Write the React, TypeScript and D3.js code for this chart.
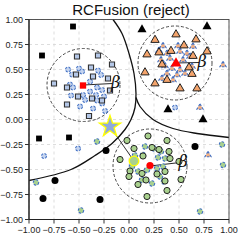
import * as d3 from 'd3';

// points, in data units
const blackSquares = [[-0.56, 0.93], [-0.87, 0.64], [-0.9, -0.19], [-0.6, -0.18]];
const blackTriangles = [[0.13, 0.9], [0.78, 0.93], [0.39, 0.1], [0.74, 0.0]];
const blackCircles = [[-0.23, -0.31], [-0.74, -0.61], [-0.86, -0.79], [-0.29, -0.8], [0.66, -0.27]];

const blueSquares = [
  [-0.52, 0.63], [-0.31, 0.64], [-0.17, 0.55], [-0.38, 0.52], [-0.53, 0.45], [-0.36, 0.43],
  [-0.21, 0.41], [-0.75, 0.36], [-0.62, 0.32], [-0.19, 0.29], [-0.51, 0.23], [-0.37, 0.21],
  [-0.27, 0.19], [-0.62, 0.15], [-0.4, 0.035],
];
const blueSmall = [
  [-0.61, 0.5], [-0.5, 0.51], [-0.47, 0.48], [-0.57, 0.45], [-0.31, 0.49], [-0.28, 0.445],
  [-0.59, 0.35], [-0.56, 0.32], [-0.39, 0.38], [-0.32, 0.32], [-0.27, 0.295], [-0.58, 0.24],
  [-0.46, 0.245], [-0.44, 0.195], [-0.39, 0.28], [-0.33, 0.245], [-0.32, 0.19], [-0.25, 0.23],
  [-0.27, 0.16], [-0.49, 0.13], [-0.36, 0.11], [-0.24, 0.085], [-0.51, -0.29], [-0.85, -0.365],
  [0.46, 0.12],
];

const orangeTriangles = [
  [0.47, 0.85], [0.26, 0.795], [0.67, 0.8], [0.55, 0.74], [0.3, 0.67], [0.42, 0.685],
  [0.18, 0.65], [0.64, 0.635], [0.78, 0.68], [0.33, 0.55], [0.6, 0.52], [0.16, 0.47],
  [0.38, 0.395], [0.26, 0.36], [0.63, 0.455], [0.51, 0.31], [0.68, 0.31],
];
const orangeSmall = [
  [0.34, 0.735], [0.49, 0.735], [0.64, 0.73], [0.3, 0.69], [0.38, 0.66], [0.51, 0.68],
  [0.58, 0.66], [0.32, 0.595], [0.41, 0.61], [0.54, 0.595], [0.61, 0.63], [0.36, 0.535],
  [0.43, 0.51], [0.51, 0.495], [0.63, 0.53], [0.38, 0.46], [0.48, 0.445], [0.56, 0.46],
  [0.44, 0.395], [0.33, 0.41], [0.94, 0.545], [0.71, 0.12], [0.79, -0.355],
];

const greenCircles = [
  [-0.02, -0.21], [0.19, -0.165], [0.38, -0.21], [0.05, -0.29], [0.23, -0.28], [0.3, -0.3],
  [0.4, -0.32], [-0.09, -0.4], [0.14, -0.365], [0.41, -0.39], [0.5, -0.42], [0.01, -0.515],
  [0.13, -0.54], [0.28, -0.545], [0.36, -0.52], [0.09, -0.65], [0.17, -0.605], [0.36, -0.615],
  [0.0, -0.57], [0.38, -0.71], [0.18, -0.77], [0.52, -0.6],
];
const greenSmall = [
  [0.16, -0.27], [0.25, -0.29], [0.32, -0.32], [0.14, -0.355], [0.29, -0.38], [0.36, -0.39],
  [0.09, -0.52], [0.03, -0.47], [0.18, -0.505], [0.28, -0.49], [0.34, -0.47], [0.13, -0.605],
  [0.23, -0.64], [0.31, -0.57], [0.35, -0.62], [0.06, -0.36],
  [-0.32, -0.22], [-0.93, -0.63], [-0.48, -0.91], [0.71, -0.92], [0.93, -0.25], [0.94, -0.455],
];

// cluster circles: centre, radius, beta label position
const clusters = [
  { c: [-0.455, 0.345], r: 0.365, beta: [-0.135, 0.37] },
  { c: [0.46, 0.565], r: 0.37, beta: [0.73, 0.58] },
  { c: [0.21, -0.465], r: 0.37, beta: [0.54, -0.42] },
];
const redSquare = [-0.46, 0.34];
const redTriangle = [0.47, 0.56];
const redCircle = [0.21, -0.46];
const star = [-0.19, -0.07];
const query = [0.05, -0.415];

// decision boundaries
const boundaryA = [
  [-0.16, 1.0], [-0.07, 0.86], [0.0, 0.66], [0.05, 0.46], [0.07, 0.26], [0.06, 0.12],
  [0.02, 0.0], [-0.04, -0.1], [-0.17, -0.24], [-0.34, -0.36], [-0.58, -0.5], [-1.0, -0.61],
];
const boundaryB = [
  [0.07, 0.22], [0.11, 0.13], [0.24, 0.0], [0.44, -0.09], [0.68, -0.14], [1.0, -0.18],
];

const ticks = [-1, -0.75, -0.5, -0.25, 0, 0.25, 0.5, 0.75, 1];

export default function App() {
  const x = d3.scaleLinear().domain([-1, 1]).range([29, 229]);
  const y = d3.scaleLinear().domain([-1, 1]).range([219.5, 19.5]);
  const line = d3.line<number[]>().x(d => x(d[0])).y(d => y(d[1])).curve(d3.curveCatmullRom);
  const sym = (type: d3.SymbolType, size: number) => d3.symbol().type(type).size(size)() || '';
  const fmt = d3.format('.2f');
  const font = '"Liberation Sans", Arial, sans-serif';

  const smallStroke = { stroke: '#4472c4', strokeWidth: 1.1, strokeDasharray: '2.5,1.5' };

  return (
    <svg width={240} height={240} style={{ position: 'absolute', left: 0, top: 0, background: '#fff' }}>
      <text x={131} y={15} textAnchor="middle" fontSize={15} fontFamily={font} fill="#111">RCFusion (reject)</text>

      {ticks.map(t => (
        <g key={'g' + t}>
          <line x1={x(t)} x2={x(t)} y1={19.5} y2={219.5} stroke="#d4d4d4" strokeWidth={0.8} strokeDasharray="3,3" />
          <line x1={29} x2={229} y1={y(t)} y2={y(t)} stroke="#d4d4d4" strokeWidth={0.8} strokeDasharray="3,3" />
          <line x1={25} x2={29} y1={y(t)} y2={y(t)} stroke="#333" strokeWidth={1} />
          <line x1={x(t)} x2={x(t)} y1={219.5} y2={223.5} stroke="#333" strokeWidth={1} />
          <text x={23} y={y(t) + 3.3} textAnchor="end" fontSize={9} fontFamily={font} fill="#222">{fmt(t)}</text>
          <text x={x(t)} y={233} textAnchor="middle" fontSize={9} fontFamily={font} fill="#222">{fmt(t)}</text>
        </g>
      ))}

      {clusters.map((cl, i) => (
        <g key={'c' + i}>
          <circle cx={x(cl.c[0])} cy={y(cl.c[1])} r={x(cl.r) - x(0)} fill="none" stroke="#333" strokeWidth={0.9} strokeDasharray="3,2" />
          <line x1={x(cl.c[0])} y1={y(cl.c[1])} x2={x(cl.beta[0]) - 3} y2={y(cl.beta[1]) + 1} stroke="#111" strokeWidth={0.9} />
        </g>
      ))}

      <path d={line(boundaryA) || ''} fill="none" stroke="#111" strokeWidth={1.3} />
      <path d={line(boundaryB) || ''} fill="none" stroke="#111" strokeWidth={1.3} />

      <line x1={x(star[0])} y1={y(star[1])} x2={x(query[0])} y2={y(query[1])} stroke="#333" strokeWidth={1} />

      {blueSmall.map((d, i) => (
        <circle key={'bs' + i} cx={x(d[0])} cy={y(d[1])} r={2.5} fill="#c5d4ef" {...smallStroke} />
      ))}
      {orangeSmall.map((d, i) => (
        <path key={'os' + i} d={sym(d3.symbolTriangle, 17)} transform={`translate(${x(d[0])},${y(d[1])})`} fill="#f4b183" {...smallStroke} />
      ))}
      {greenSmall.map((d, i) => (
        <circle key={'gs' + i} cx={x(d[0])} cy={y(d[1])} r={2.7} fill="#a9d18e" {...smallStroke} />
      ))}

      {blueSquares.map((d, i) => (
        <path key={'bq' + i} d={sym(d3.symbolSquare, 26)} transform={`translate(${x(d[0])},${y(d[1])})`} fill="#b4c7e7" stroke="#333" strokeWidth={1.1} />
      ))}
      {orangeTriangles.map((d, i) => (
        <path key={'ot' + i} d={sym(d3.symbolTriangle, 30)} transform={`translate(${x(d[0])},${y(d[1])})`} fill="#f4a46c" stroke="#222" strokeWidth={1} />
      ))}
      {greenCircles.map((d, i) => (
        <circle key={'gc' + i} cx={x(d[0])} cy={y(d[1])} r={3.1} fill="#a9d18e" stroke="#222" strokeWidth={1} />
      ))}

      {blackSquares.map((d, i) => (
        <path key={'ks' + i} d={sym(d3.symbolSquare, 34)} transform={`translate(${x(d[0])},${y(d[1])})`} fill="#000" />
      ))}
      {blackTriangles.map((d, i) => (
        <path key={'kt' + i} d={sym(d3.symbolTriangle, 36)} transform={`translate(${x(d[0])},${y(d[1])})`} fill="#000" />
      ))}
      {blackCircles.map((d, i) => (
        <circle key={'kc' + i} cx={x(d[0])} cy={y(d[1])} r={3.5} fill="#000" />
      ))}

      <path d={sym(d3.symbolSquare, 40)} transform={`translate(${x(redSquare[0])},${y(redSquare[1])})`} fill="#ff0000" />
      <path d={sym(d3.symbolTriangle, 50)} transform={`translate(${x(redTriangle[0])},${y(redTriangle[1])})`} fill="#ff0000" />
      <circle cx={x(redCircle[0])} cy={y(redCircle[1])} r={3.6} fill="#ff0000" />

      <circle cx={x(query[0])} cy={y(query[1])} r={4.8} fill="#a9d18e" stroke="#ffff00" strokeWidth={1.3} />
      <path d={sym(d3.symbolStar, 140)} transform={`translate(${x(star[0])},${y(star[1])})`} fill="#8faadc" stroke="#ffff00" strokeWidth={1.3} />

      {clusters.map((cl, i) => (
        <text key={'b' + i} x={x(cl.beta[0])} y={y(cl.beta[1]) + 5.5} textAnchor="middle" fontSize={16} fontStyle="italic" fontFamily='"DejaVu Serif", serif' fill="#111">β</text>
      ))}

      <rect x={29} y={19.5} width={200} height={200} fill="none" stroke="#444" strokeWidth={0.9} />
      <line x1={29} x2={29} y1={19.5} y2={219.5} stroke="#222" strokeWidth={1.2} />
      <line x1={29} x2={229} y1={219.5} y2={219.5} stroke="#222" strokeWidth={1.2} />
    </svg>
  );
}
